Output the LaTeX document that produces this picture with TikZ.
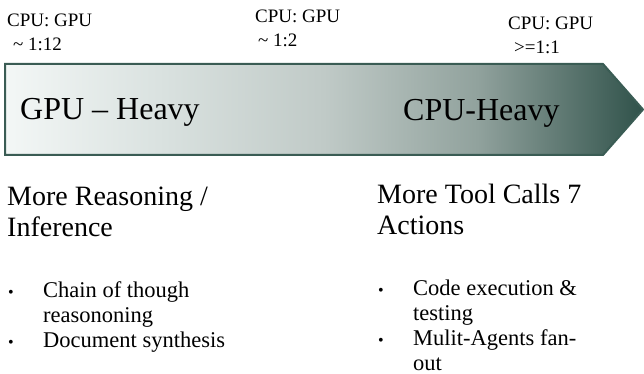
\documentclass[tikz,border=0pt]{standalone}
\usepackage{fontspec}
\setmainfont{Liberation Serif}
\usetikzlibrary{positioning}

\definecolor{barL}{HTML}{F3F7F6}
\definecolor{barA}{HTML}{DAE2E0}
\definecolor{barB}{HTML}{C0CAC7}
\definecolor{barC}{HTML}{91A29D}
\definecolor{barR}{HTML}{30524A}
\definecolor{barEdge}{HTML}{3A5C54}

\pgfdeclarehorizontalshading{loadshade}{100bp}{color(0bp)=(barL); color(25bp)=(barL);
  color(37bp)=(barA); color(50bp)=(barB); color(62bp)=(barC); color(75bp)=(barR); color(100bp)=(barR)}

\tikzset{
  ratiolabel/.style={anchor=base west, inner sep=0pt, align=left, font=\fontsize{19}{24.5}\selectfont},
  barlabel/.style={anchor=base west, inner sep=0pt, font=\fontsize{32}{38}\selectfont},
  heading/.style={anchor=base west, inner sep=0pt, align=left, font=\fontsize{28}{31}\selectfont},
  itemtext/.style={anchor=base west, inner sep=0pt, align=left, font=\fontsize{22.5}{25}\selectfont},
  itemdot/.style={anchor=base west, inner sep=0pt, font=\fontsize{16}{20}\selectfont},
}

\begin{document}
\begin{tikzpicture}[x=1pt, y=-1pt]
    \useasboundingbox (0,0) rectangle (644,374);

    % CPU:GPU ratios (placed by the baseline of the last line)
    \node[ratiolabel] (ratioA) at (7,51)   {CPU: GPU\\\hspace*{6pt}\textasciitilde{} 1:12};
    \node[ratiolabel] (ratioB) at (255,47) {CPU: GPU\\\hspace*{3pt}\textasciitilde{} 1:2};
    \node[ratiolabel] (ratioC) at (508,54) {CPU: GPU\\\hspace*{6pt}>=1:1};

    % Load arrow
    \shade[shading=loadshade, draw=barEdge, line width=2pt]
        (5,64) -- (603,64) -- (643,109.5) -- (603,155) -- (5,155) -- cycle;
    \node[barlabel] (gpuheavy) at (20,120)  {GPU – Heavy};
    \node[barlabel] (cpuheavy) at (403,121) {CPU-Heavy};

    % Reasoning side
    \node[heading] (reasonhead) at (7,236) {More Reasoning /\\Inference};
    \node[itemtext] (chain) at (43,322) {Chain of though\\reasononing};
    \node[itemdot] (chaindot) at (8,297) {•};
    \node[itemtext] (docsyn) at (43,347) {Document synthesis};
    \node[itemdot] (docsyndot) at (8,347) {•};

    % Tool side
    \node[heading] (toolhead) at (377,234) {More Tool Calls 7\\Actions};
    \node[itemtext] (code) at (413,320) {Code execution \&\\testing};
    \node[itemdot] (codedot) at (378,295) {•};
    \node[itemtext] (agents) at (413,370) {Mulit-Agents fan-\\out};
    \node[itemdot] (agentsdot) at (378,345) {•};
\end{tikzpicture}
\end{document}
